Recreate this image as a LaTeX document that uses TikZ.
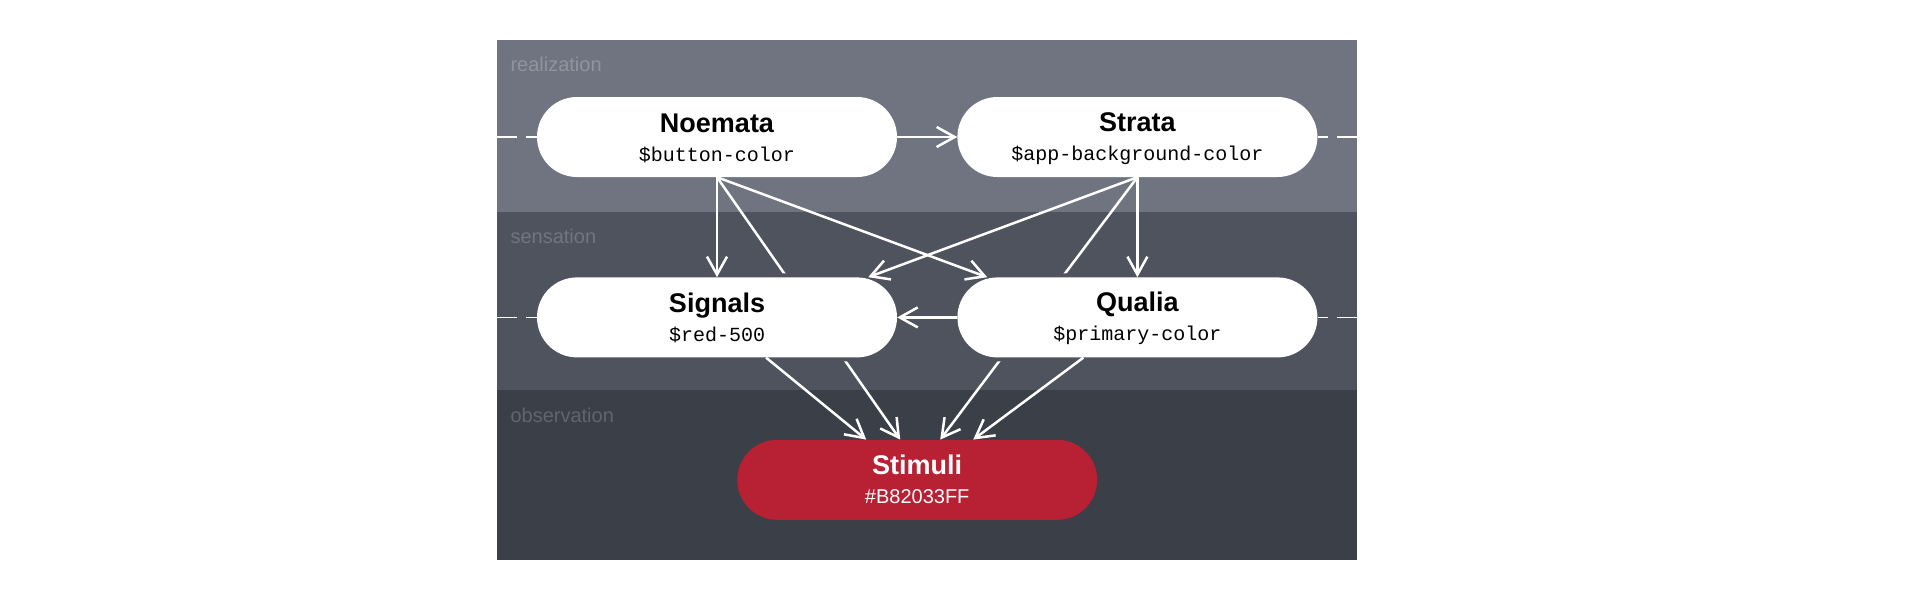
\documentclass[tikz,border=0pt]{standalone}
\usepackage{fontspec}
\setmainfont{Liberation Sans}
\setmonofont{Liberation Mono}
\usetikzlibrary{positioning,calc,arrows.meta}
\definecolor{realband}{RGB}{111,116,128}
\definecolor{sensband}{RGB}{78,83,93}
\definecolor{obsband}{RGB}{58,63,72}
\definecolor{reallbl}{RGB}{143,148,158}
\definecolor{senslbl}{RGB}{112,117,127}
\definecolor{obslbl}{RGB}{96,101,111}
\definecolor{stimred}{RGB}{184,32,51}
\pgfdeclarelayer{back}
\pgfdeclarelayer{hidden}
\pgfsetlayers{back,hidden,main}
\newcommand{\tokname}[1]{{\fontsize{27}{29}\selectfont\bfseries\rule{0pt}{22pt}#1}}
\newcommand{\tokval}[1]{{\ttfamily\rule[-3pt]{0pt}{3pt}#1}}

\begin{document}
\begin{tikzpicture}[x=1pt, y=-1pt,
        tok/.style={rectangle, rounded corners=40pt, fill=white, minimum width=360pt, minimum height=80pt, inner sep=0pt, align=center, font=\fontsize{20}{29}\selectfont},
        stimbox/.style={fill=stimred, text=white},
        halo/.style={preaction={draw=#1, line width=8pt}},
        band/.style={anchor=base west, font=\fontsize{20}{24}\selectfont},
        arr/.style={draw=white, line width=2.5pt, -{Straight Barb[length=18pt, width=20pt]}},
        stub/.style={draw=white, line width=1.5pt, dash pattern=on 20pt off 9pt}]

    \useasboundingbox (0,0) rectangle (1917,600);
    \coordinate (pnw) at (497,40);
    \coordinate (pse) at (1357,560);
    \begin{pgfonlayer}{back}
        \fill[white] (0,0) rectangle (1917,600);
        \fill[realband] (pnw) rectangle (1357,212);
        \fill[sensband] (497,212) rectangle (1357,390);
        \fill[obsband] (497,390) rectangle (pse);
    \end{pgfonlayer}

    \node [band, text=reallbl] (real) at (507,71) {realization};
    \node [band, text=senslbl] (sens) at (507,243) {sensation};
    \node [band, text=obslbl] (obs) at (507,422) {observation};

    \node [tok] (noe) at (717,137) {\tokname{Noemata}\\\tokval{\$button-color}};
    \node [tok, right=60pt of noe] (str) {\tokname{Strata}\\\tokval{\$app-background-color}};
    \node [tok, halo=sensband, below=100pt of noe] (sig) {\tokname{Signals}\\\tokval{\$red-500}};
    \node [tok, halo=sensband, below=100pt of str] (qua) {\tokname{Qualia}\\\tokval{\$primary-color}};
    \coordinate (mid) at ($(sig.south)!0.5!(qua.south)$);
    \node [tok, stimbox, below=82pt of mid, xshift=-10pt] (stim) {\tokname{Stimuli}\\{\rule[-3pt]{0pt}{3pt}\#B82033FF}};

    \coordinate (noeL) at (noe.west -| pnw);
    \coordinate (strR) at (str.east -| pse);
    \coordinate (sigL) at (sig.west -| pnw);
    \coordinate (quaR) at (qua.east -| pse);
    \draw [stub] (noeL) -- (noe.west);
    \draw [stub] (strR) -- (str.east);
    \draw [stub] (sigL) -- (sig.west);
    \draw [stub] (quaR) -- (qua.east);

    \begin{pgfonlayer}{hidden}
        \draw [arr] (noe.south) -- ([xshift=-17pt]stim.north);
        \draw [arr] (str.south) -- ([xshift=23pt]stim.north);
    \end{pgfonlayer}
    \draw [arr] (noe) -- (str);
    \draw [arr] (noe) -- (sig);
    \draw [arr] (noe.south) -- ([xshift=30pt]qua.north west);
    \draw [arr] (str.south) -- ([xshift=-29pt]sig.north east);
    \draw [arr] (str) -- (qua);
    \draw [arr] (qua) -- (sig);
    \draw [arr] (sig) -- ([xshift=-51pt]stim.north);
    \draw [arr] (qua) -- ([xshift=56pt]stim.north);
\end{tikzpicture}
\end{document}
